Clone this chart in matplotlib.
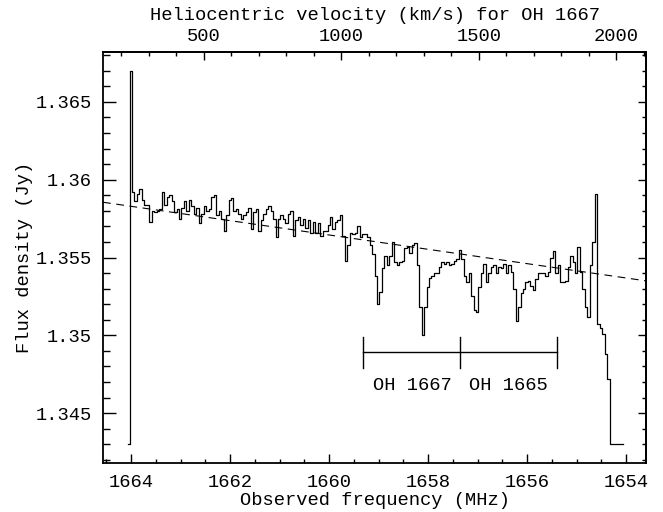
import numpy as np
import matplotlib
matplotlib.use("Agg")
import matplotlib.pyplot as plt
from matplotlib.ticker import MultipleLocator, FuncFormatter

# spectrum channels (MHz), first channel and channel width
f_first = 1664.06
chan_width = 0.05

# flux density per channel (Jy)
flux_a = [1.3430, 1.3670, 1.3592, 1.3586, 1.3591, 1.3594, 1.3587, 1.3584, 1.3584, 1.3573,
          1.3580, 1.3579, 1.3580, 1.3581, 1.3592, 1.3584, 1.3589, 1.3590, 1.3586, 1.3579,
          1.3581, 1.3575, 1.3582, 1.3586, 1.3580, 1.3587, 1.3583, 1.3578, 1.3582, 1.3572,
          1.3578, 1.3583, 1.3580, 1.3581, 1.3589, 1.3590, 1.3577, 1.3580, 1.3575, 1.3567,
          1.3577, 1.3587, 1.3588, 1.3580, 1.3581, 1.3578, 1.3575, 1.3577, 1.3579, 1.3582]
flux_b = [1.3568, 1.3579, 1.3581, 1.3567, 1.3574, 1.3578, 1.3581, 1.3583, 1.3580, 1.3575,
          1.3563, 1.3575, 1.3577, 1.3575, 1.3572, 1.3578, 1.3580, 1.3564, 1.3574, 1.3576,
          1.3571, 1.3575, 1.3569, 1.3574, 1.3566, 1.3573, 1.3566, 1.3572, 1.3564, 1.3567,
          1.3567, 1.3571, 1.3576, 1.3568, 1.3573, 1.3574, 1.3577, 1.3564, 1.3548, 1.3558,
          1.3566, 1.3565, 1.3566, 1.3570, 1.3563, 1.3565, 1.3565, 1.3563, 1.3558, 1.3552]
flux_c = [1.3538, 1.3520, 1.3528, 1.3543, 1.3551, 1.3545, 1.3551, 1.3560, 1.3547, 1.3545,
          1.3547, 1.3548, 1.3556, 1.3557, 1.3553, 1.3558, 1.3559, 1.3545, 1.3518, 1.3500,
          1.3518, 1.3531, 1.3537, 1.3538, 1.3540, 1.3540, 1.3544, 1.3547, 1.3546, 1.3547,
          1.3545, 1.3546, 1.3548, 1.3549, 1.3555, 1.3549, 1.3538, 1.3534, 1.3540, 1.3525,
          1.3516, 1.3515, 1.3531, 1.3540, 1.3546, 1.3534, 1.3540, 1.3544, 1.3545, 1.3540]
flux_d = [1.3544, 1.3543, 1.3546, 1.3540, 1.3545, 1.3541, 1.3530, 1.3509, 1.3518, 1.3527,
          1.3530, 1.3534, 1.3535, 1.3532, 1.3529, 1.3536, 1.3540, 1.3540, 1.3540, 1.3538,
          1.3541, 1.3550, 1.3554, 1.3540, 1.3545, 1.3534, 1.3534, 1.3535, 1.3544, 1.3551,
          1.3547, 1.3540, 1.3557, 1.3541, 1.3530, 1.3518, 1.3512, 1.3545, 1.3560, 1.3591,
          1.3507, 1.3505, 1.3501, 1.3488, 1.3472, 1.3430, 1.3430, 1.3430, 1.3430, 1.3430,
          1.3430]

# fitted continuum (dashed), given at the plot edges
base_freq = [1664.57, 1653.60]
base_flux = [1.35855, 1.35350]

# velocity range marked for both OH lines
mark_freq = [1659.31, 1657.35, 1655.40]
mark_flux = 1.3489
mark_labels = ["OH 1667", "OH 1665"]

flux = np.array(flux_a + flux_b + flux_c + flux_d)
freq = f_first - chan_width * np.arange(len(flux))

plt.rcParams['font.family'] = ['Liberation Mono', 'DejaVu Sans Mono']
plt.rcParams['font.size'] = 13.5

fig = plt.figure(figsize=(6.63, 5.12), dpi=100)
ax = fig.add_axes([0.1554, 0.0957, 0.819, 0.8027])

ax.plot(freq, flux, color='black', lw=0.9, drawstyle='steps-mid')
ax.plot(base_freq, base_flux, color='black', lw=0.8, dashes=(7, 5))

# bracket for the OH lines
ax.plot([mark_freq[0], mark_freq[-1]], [mark_flux, mark_flux], color='black', lw=1.0)
for f in mark_freq:
    ax.plot([f, f], [mark_flux - 0.001, mark_flux + 0.001], color='black', lw=1.0)
for k, lab in enumerate(mark_labels):
    ax.text((mark_freq[k] + mark_freq[k + 1]) / 2, mark_flux - 0.0021, lab,
            ha='center', va='center')

ax.set_xlim(1664.57, 1653.60)
ax.set_ylim(1.3418, 1.3682)

ax.xaxis.set_major_locator(MultipleLocator(2))
ax.xaxis.set_minor_locator(MultipleLocator(0.5))
ax.yaxis.set_major_locator(MultipleLocator(0.005))
ax.yaxis.set_minor_locator(MultipleLocator(0.001))
ax.yaxis.set_major_formatter(FuncFormatter(lambda v, p: '%g' % round(v, 4)))
ax.xaxis.set_major_formatter(FuncFormatter(lambda v, p: '%d' % round(v)))

ax.tick_params(axis='x', which='both', direction='in', top=False, width=1)
ax.tick_params(axis='x', which='major', length=6.5, pad=8)
ax.tick_params(axis='x', which='minor', length=3)
ax.tick_params(axis='y', which='both', direction='in', right=False, width=1)
ax.tick_params(axis='y', which='major', length=9.5, pad=8)
ax.tick_params(axis='y', which='minor', length=5)
for s in ax.spines.values():
    s.set_linewidth(1.3)

ax.set_xlabel('Observed frequency (MHz)')
ax.set_ylabel('Flux density (Jy)')
ax.xaxis.set_label_coords(0.5, -0.07)
ax.yaxis.set_label_coords(-0.129, 0.5)

# right-hand ticks, shorter
ay = ax.secondary_yaxis('right')
ay.yaxis.set_major_locator(MultipleLocator(0.005))
ay.yaxis.set_minor_locator(MultipleLocator(0.001))
ay.tick_params(which='both', direction='in', labelright=False, width=1)
ay.tick_params(which='major', length=6)
ay.tick_params(which='minor', length=3)
ay.spines['right'].set_linewidth(1.3)

# top axis: heliocentric velocity for OH 1667
def f2v(f):
    return 2000 + 180 * (1654.2 - np.asarray(f))

def v2f(v):
    return 1654.2 - (np.asarray(v) - 2000) / 180

av = ax.secondary_xaxis('top', functions=(f2v, v2f))
av.xaxis.set_major_locator(MultipleLocator(500))
av.xaxis.set_minor_locator(MultipleLocator(100))
av.tick_params(which='both', direction='in', width=1)
av.tick_params(which='major', length=6, pad=5)
av.tick_params(which='minor', length=3)
av.spines['top'].set_linewidth(1.3)
av.set_xlabel('Heliocentric velocity (km/s) for OH 1667', labelpad=6)

fig.savefig('out.png', dpi=100)
